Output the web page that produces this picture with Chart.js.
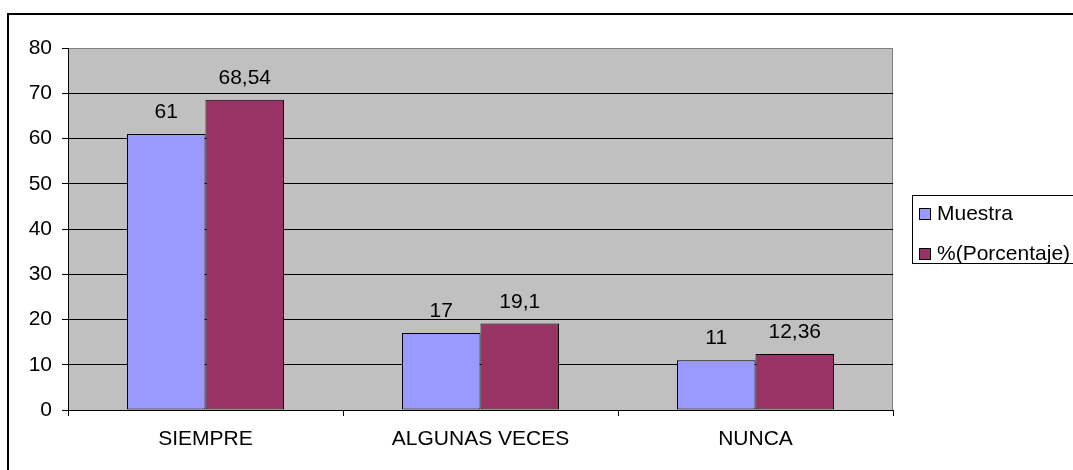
<!DOCTYPE html>
<html>
<head>
<meta charset="utf-8">
<script src="https://cdn.jsdelivr.net/npm/chart.js@4/dist/chart.umd.min.js"></script>
<style>
  html, body { margin: 0; padding: 0; background: #fff; }
  #wrap { width: 1073px; height: 470px; position: relative; }
</style>
</head>
<body>
<div id="wrap"><canvas id="Chart"></canvas></div>
<script>
// datos del gráfico
const categorias = ['SIEMPRE', 'ALGUNAS VECES', 'NUNCA'];
const muestra = [61, 17, 11];
const porcentaje = [68.54, 19.1, 12.36];
const serieNombres = ['Muestra', '%(Porcentaje)'];
const serieColores = ['#9999FF', '#993366'];
const yTicks = { min: 0, max: 80, step: 10 };

const FUENTE = '"Liberation Sans", Arial, sans-serif';
const TAM = 21;

// fondo gris del área, marco exterior y leyenda
const marcoPlugin = {
	id: 'marco',
	beforeDraw(chart) {
		const ctx = chart.ctx;
		const a = chart.chartArea;
		ctx.save();
		ctx.fillStyle = '#C0C0C0';
		ctx.fillRect(a.left, a.top, a.right - a.left, a.bottom - a.top);
		ctx.strokeStyle = '#808080';
		ctx.lineWidth = 1;
		ctx.beginPath();
		ctx.moveTo(a.left, a.top + 0.5);
		ctx.lineTo(a.right - 0.5, a.top + 0.5);
		ctx.lineTo(a.right - 0.5, a.bottom);
		ctx.stroke();
		// marco exterior (solo arriba e izquierda visibles)
		ctx.strokeStyle = '#000';
		ctx.lineWidth = 2;
		ctx.beginPath();
		ctx.moveTo(8, 480);
		ctx.lineTo(8, 14);
		ctx.lineTo(1080, 14);
		ctx.stroke();
		ctx.restore();
	},
	afterDraw(chart) {
		const ctx = chart.ctx;
		ctx.save();
		ctx.strokeStyle = '#000';
		ctx.lineWidth = 1;
		ctx.strokeRect(912.5, 195.5, 170, 68);
		ctx.font = TAM + 'px ' + FUENTE;
		ctx.textBaseline = 'alphabetic';
		ctx.textAlign = 'left';
		serieNombres.forEach((n, i) => {
			const y = 208 + i * 40;
			ctx.fillStyle = serieColores[i];
			ctx.fillRect(919.5, y + 0.5, 11, 11);
			ctx.strokeRect(919.5, y + 0.5, 11, 11);
			ctx.fillStyle = '#000';
			ctx.fillText(n, 937, y + 12);
		});
		ctx.restore();
	}
};

// etiquetas de valores sobre las barras
const etiquetasPlugin = {
	id: 'etiquetas',
	afterDatasetsDraw(chart) {
		const ctx = chart.ctx;
		ctx.save();
		ctx.font = TAM + 'px ' + FUENTE;
		ctx.fillStyle = '#000';
		ctx.textAlign = 'center';
		ctx.textBaseline = 'alphabetic';
		chart.data.datasets.forEach((ds, i) => {
			chart.getDatasetMeta(i).data.forEach((bar, j) => {
				const txt = String(ds.data[j]).replace('.', ',');
				ctx.fillText(txt, bar.x, bar.y - 16);
			});
		});
		ctx.restore();
	}
};

let lineCtx = document.getElementById('Chart');
let config = {
	type: 'bar',
	data: {
		labels: categorias,
		datasets: [{
			label: serieNombres[0],
			data: muestra,
			backgroundColor: serieColores[0],
			borderColor: '#000',
			borderWidth: 1,
			borderSkipped: false,
		}, {
			label: serieNombres[1],
			data: porcentaje,
			backgroundColor: serieColores[1],
			borderColor: '#000',
			borderWidth: 1,
			borderSkipped: false,
		}],
	},
	options: {
		responsive: true,
		maintainAspectRatio: false,
		animation: false,
		categoryPercentage: 0.571,
		barPercentage: 1,
		layout: { padding: { left: 0, top: 48, right: 180, bottom: 0 } },
		plugins: {
			legend: { display: false },
			tooltip: { enabled: false },
		},
		scales: {
			x: {
				afterFit(s) { s.height = 60; },
				grid: {
					offset: true,
					drawOnChartArea: false,
					drawTicks: true,
					tickLength: 6,
					color: '#000',
				},
				border: { color: '#000', width: 1 },
				ticks: {
					color: '#000',
					padding: 11,
					font: { family: FUENTE, size: TAM },
				},
			},
			y: {
				min: yTicks.min,
				max: yTicks.max,
				afterFit(s) { s.width = 68; },
				grid: {
					color: (c) => c.tick && c.tick.value === yTicks.max ? '#808080' : '#000',
					tickColor: '#000',
					tickLength: 6,
					lineWidth: 1,
				},
				border: { color: '#000', width: 1 },
				ticks: {
					stepSize: yTicks.step,
					color: '#000',
					padding: 10,
					font: { family: FUENTE, size: TAM },
				},
			},
		},
	},
	plugins: [marcoPlugin, etiquetasPlugin],
};
let chart = new Chart(lineCtx, config);
</script>
</body>
</html>
